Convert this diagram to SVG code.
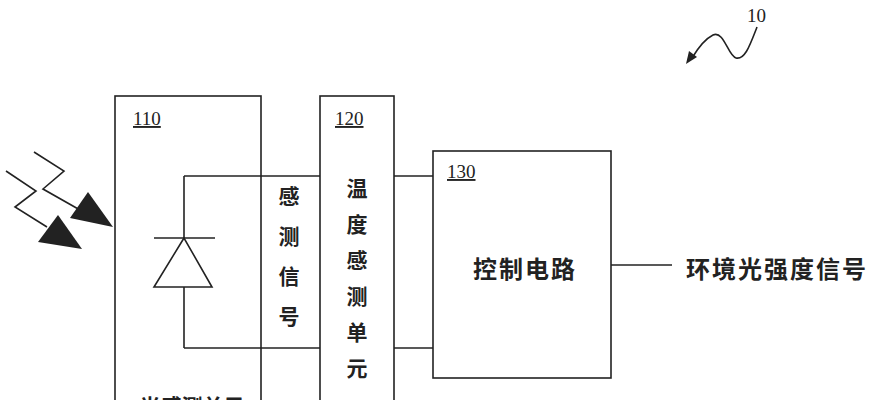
<svg xmlns="http://www.w3.org/2000/svg" width="876" height="400" viewBox="0 0 876 400">
<style>
.b{fill:none;stroke:#222;stroke-width:1.6}
.n{font-family:"Liberation Serif",serif;font-size:19px;fill:#222;text-decoration:underline}
.c{font-family:"Noto Sans CJK SC",sans-serif;font-size:21px;font-weight:bold;fill:#222;text-anchor:middle}
.h{font-size:24px;letter-spacing:2px}
</style>
<rect width="876" height="400" fill="#fff"/>
<g id="label10">
<text x="747" y="22" font-family="Liberation Serif,serif" font-size="19" fill="#222">10</text>
<path class="b" d="M757,27 C750,45 745,60 736,58 C728,56 724,30 713,35 C705,39 698,48 692,58"/>
<polygon points="686,64 689,51 697,57" fill="#222"/>
</g>
<g id="n110">
<rect class="b" x="115" y="96" width="146" height="320"/>
<text class="n" x="133" y="125">110</text>
<text class="c" x="192" y="414">光感测单元</text>
<line class="b" x1="154" y1="238" x2="215" y2="238"/>
<polygon class="b" points="184,238 154,287 212,287"/>
<line class="b" x1="184" y1="176" x2="184" y2="238"/>
<line class="b" x1="184" y1="287" x2="184" y2="348"/>
</g>
<g id="n120">
<rect class="b" x="320" y="96" width="74" height="320"/>
<text class="n" x="335" y="125">120</text>
<text class="c" x="357" y="196">温</text>
<text class="c" x="357" y="232">度</text>
<text class="c" x="357" y="268">感</text>
<text class="c" x="357" y="304">测</text>
<text class="c" x="357" y="340">单</text>
<text class="c" x="357" y="376">元</text>
</g>
<g id="n130">
<rect class="b" x="433" y="151" width="178" height="227"/>
<text class="n" x="447" y="178">130</text>
<text class="c h" x="525" y="278">控制电路</text>
</g>
<g id="light">
<polyline class="b" points="34,152 64,171 43,189 80,210"/>
<polygon points="88,192 70,218 113,227" fill="#222"/>
<polyline class="b" points="6,171 36,191 15,207 47,227"/>
<polygon points="58,215 38,242 82,249" fill="#222"/>
</g>
<g id="connectors">
<line class="b" x1="184" y1="176" x2="320" y2="176"/>
<line class="b" x1="184" y1="348" x2="320" y2="348"/>
<line class="b" x1="394" y1="176" x2="433" y2="176"/>
<line class="b" x1="394" y1="348" x2="433" y2="348"/>
<line class="b" x1="611" y1="265" x2="672" y2="265"/>
</g>
<g id="labels">
<text class="c" x="289" y="204">感</text>
<text class="c" x="289" y="244">测</text>
<text class="c" x="289" y="284">信</text>
<text class="c" x="289" y="324">号</text>
<text class="c h" x="777" y="278">环境光强度信号</text>
</g>
</svg>
